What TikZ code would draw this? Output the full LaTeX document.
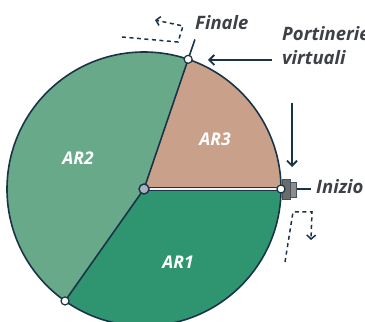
\documentclass[tikz,border=0pt]{standalone}
\usepackage{fontspec}
\setmainfont{Open Sans}
\usetikzlibrary{arrows.meta}
\definecolor{navy}{HTML}{1B3346}
\definecolor{ltgreen}{HTML}{68A98A}
\definecolor{dkgreen}{HTML}{2F9570}
\definecolor{tan}{HTML}{C9A18A}
\definecolor{txtgray}{HTML}{3D4147}
\definecolor{hub}{HTML}{A9B3BF}
\tikzset{
  edge/.style={draw=navy, line width=1.6pt},
  pt/.style={circle, draw=navy, fill=white, line width=1.2pt, inner sep=0pt, minimum size=8pt},
  arr/.style={draw=navy, line width=1.8pt, -{Straight Barb[length=5pt,width=10pt]}},
  darr/.style={draw=navy, line width=1.5pt, dash pattern=on 4pt off 3.5pt, -{Straight Barb[length=4pt,width=9pt]}},
  arlab/.style={text=white, font=\fontsize{17.5}{21}\selectfont\bfseries\itshape},
  lab/.style={text=txtgray, font=\fontsize{18.5}{24.5}\selectfont\bfseries\itshape, inner sep=0pt},
}
\begin{document}
\begin{tikzpicture}[x=1pt,y=1pt]
\useasboundingbox (0,0) rectangle (365,322);
\coordinate (C) at (144,133);
\def\R{137}
% sectors
\fill[tan] (C) -- ++(0:\R) arc[start angle=0,end angle=71.2,radius=\R] -- cycle;
\fill[ltgreen] (C) -- ++(71.2:\R) arc[start angle=71.2,end angle=234.8,radius=\R] -- cycle;
\fill[dkgreen] (C) -- ++(234.8:\R) arc[start angle=234.8,end angle=360,radius=\R] -- cycle;
\draw[edge] (C) circle[radius=\R];
\path (C) ++(0:\R) coordinate (P0) (C) ++(71.2:\R) coordinate (P1) (C) ++(234.8:\R) coordinate (P2);
\path (C) ++(71.2:158) coordinate (T1);
\draw[edge] (C) -- (P1);
\draw[edge] (C) -- (P2);
\draw[edge] (P1) -- (T1);
% double radius
\draw[navy, line width=1.2pt, double=white!85!hub, double distance=2.4pt] (C) -- (P0);
% gate
\draw[navy!60!gray, line width=1pt, fill=black!58] (282,122) rectangle (290,142);
\draw[navy!60!gray, line width=1pt, fill=black!45] (290,124.5) rectangle (296.5,139.5);
\coordinate (G) at (296.5,133);
\coordinate (G2) at (311,133);
\draw[edge] (G) -- (G2);
% points
\node[pt] (p0) at (P0) {};
\node[pt] (p1) at (P1) {};
\node[pt] (p2) at (P2) {};
\node[circle, draw=navy, fill=hub, line width=1.4pt, inner sep=0pt, minimum size=10pt] (c) at (C) {};
% sector labels
\node[arlab] (ar2) at (78,164) {AR2};
\node[arlab] (ar3) at (215,183) {AR3};
\node[arlab] (ar1) at (178,60) {AR1};
% labels
\node[lab, anchor=base west] (fin) at (195,292) {Finale};
\node[lab, anchor=base west, align=left] (port) at (282,257) {Portinerie\\virtuali};
\node[lab, anchor=base west] (ini) at (316,128) {Inizio};
% arrows
\coordinate (a1s) at (272,262);
\coordinate (a1e) at (208,262);
\draw[arr] (a1s) -- (a1e);
\coordinate (a2s) at (292,219);
\coordinate (a2e) at (292,155);
\draw[arr] (a2s) -- (a2e);
% dashed arrows
\coordinate (d1) at (122,285);
\coordinate (d2) at (178,280);
\coordinate (d3) at (183,296);
\coordinate (d4) at (155,302);
\draw[darr] (d1) -- (d2) -- (d3) -- (d4);
\coordinate (e1) at (285,60);
\coordinate (e2) at (293,110);
\coordinate (e3) at (312,110);
\coordinate (e4) at (311,82);
\draw[darr] (e1) -- (e2) -- (e3) -- (e4);
\end{tikzpicture}
\end{document}
